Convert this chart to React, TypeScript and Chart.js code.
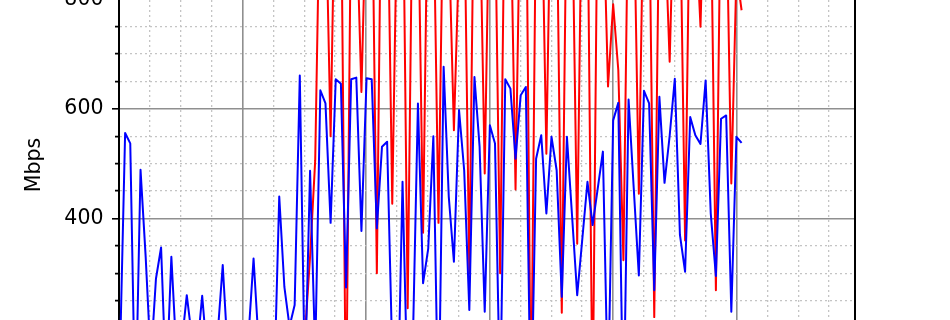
import React, { useEffect, useRef } from "react";
import { Chart, registerables } from "chart.js";

Chart.register(...registerables);

// ---- data ----
const SAMPLE_START_S = 0.2;
const SAMPLE_INTERVAL_S = 1.04;

const BLUE_MBPS: number[] = [
  150, 556, 537, 30, 489, 330, 140, 290, 347, 90,
  330, 150, 170, 260, 183, 158, 259, 146, 150, 187,
  315, 150, 150, 150, 150, 183, 327, 170, 140, 150,
  90, 440, 275, 203, 242, 661, 100, 487, 150, 634,
  610, 392, 654, 646, 274, 654, 657, 377, 656, 654,
  382, 531, 540, 150, 20, 467, 72, 168, 610, 282,
  345, 550, 15, 677, 440, 321, 598, 488, 233, 658,
  531, 230, 570, 537, 60, 654, 637, 509, 625, 640,
  10, 509, 552, 409, 549, 488, 257, 549, 405, 260,
  363, 467, 388, 455, 522, 70, 579, 611, 15, 617,
  456, 296, 633, 610, 269, 622, 465, 551, 655, 370,
  303, 585, 552, 536, 652, 409, 295, 582, 588, 230,
  549, 538,
];

const RED_MBPS: (number | null)[] = [
  null, null, null, null, null, null, null, null, null, null,
  null, null, null, null, null, null, null, null, null, null,
  null, null, null, null, null, null, null, null, null, null,
  null, null, null, null, null, null,
  187, 330, 506, 1050, 1000, 550, 1100, 1050, 20, 1000,
  960, 631, 1010, 1080, 300, 1150, 1050, 427, 1000, 1100,
  236, 1050, 1000, 374, 1080, 1000, 392, 1050, 920, 561,
  880, 1000, 300, 1100, 1000, 482, 1050, 980, 300, 1100,
  1000, 453, 1050, 1100, 30, 1000, 1050, 518, 1100, 1000,
  228, 1050, 1000, 354, 1080, 1000, 40, 1050, 1000, 641,
  791, 671, 324, 1050, 1000, 445, 1050, 1000, 220, 1000,
  950, 686, 1050, 1000, 360, 1050, 950, 750, 1100, 1000,
  269, 1050, 1000, 464, 850, 780,
];

const Y_AXIS_TITLE = "Mbps";
const Y_TICK_LABELS = [400, 600, 800];
const X_RANGE = [0, 149];
const Y_RANGE = [160, 835.2];
const X_MAJOR_STEP = 25;
const X_MINOR_STEP = 6.25;
const Y_MAJOR_STEP = 200;
const Y_MINOR_STEP = 50;

// ---- style ----
const FONT = "'DejaVu Sans', 'Liberation Sans', sans-serif";
const MAJOR_GRID = "#8f8f8f";
const MINOR_GRID = "#c4c4c4";

const isMultiple = (v: number, step: number) =>
  Math.abs(v / step - Math.round(v / step)) < 1e-6;

export default function App() {
  const ref = useRef<HTMLCanvasElement>(null);

  useEffect(() => {
    const canvas = ref.current;
    if (!canvas) return;
    const times = BLUE_MBPS.map((_, i) => SAMPLE_START_S + i * SAMPLE_INTERVAL_S);
    const blue = BLUE_MBPS.map((v, i) => ({ x: times[i], y: v }));
    const red = RED_MBPS.map((v, i) => ({ x: times[i], y: v }));

    const gridColor = (step: number) => (ctx: any) =>
      ctx.tick && isMultiple(ctx.tick.value, step) ? MAJOR_GRID : MINOR_GRID;
    const gridWidth = (step: number) => (ctx: any) =>
      ctx.tick && isMultiple(ctx.tick.value, step) ? 1.6 : 1.3;
    const gridDash = (step: number) => (ctx: any) =>
      ctx.type === "tick" && ctx.tick && !isMultiple(ctx.tick.value, step) ? [2, 3] : [];

    const chart = new Chart(canvas, {
      type: "line",
      data: {
        datasets: [
          {
            data: blue as any,
            borderColor: "#0000ff",
            borderWidth: 2,
            pointRadius: 0,
            tension: 0,
            borderJoinStyle: "round",
            fill: false,
          },
          {
            data: red as any,
            borderColor: "#ff0000",
            borderWidth: 2,
            pointRadius: 0,
            tension: 0,
            borderJoinStyle: "round",
            fill: false,
            spanGaps: false,
          },
        ],
      },
      options: {
        animation: false,
        responsive: false,
        devicePixelRatio: 1,
        events: [],
        layout: { padding: { top: 40, right: 95, bottom: 10, left: 0 } },
        plugins: { legend: { display: false }, tooltip: { enabled: false } },
        scales: {
          x: {
            type: "linear",
            min: X_RANGE[0],
            max: X_RANGE[1],
            afterFit: (s: any) => {
              s.height = 40;
            },
            ticks: {
              display: false,
              stepSize: X_MINOR_STEP,
              includeBounds: false,
              autoSkip: false,
              maxTicksLimit: 1000,
            },
            grid: {
              color: gridColor(X_MAJOR_STEP),
              lineWidth: gridWidth(X_MAJOR_STEP),
              drawTicks: false,
            },
            border: { display: true, color: "#000", width: 2, dash: gridDash(X_MAJOR_STEP) },
          },
          y: {
            type: "linear",
            position: "left",
            min: Y_RANGE[0],
            max: Y_RANGE[1],
            afterFit: (s: any) => {
              s.width = 119;
            },
            ticks: {
              stepSize: Y_MINOR_STEP,
              includeBounds: false,
              autoSkip: false,
              maxTicksLimit: 1000,
              padding: 8.5,
              color: "#000",
              font: { family: FONT, size: 20.5 },
              callback: (v: any) => (Y_TICK_LABELS.includes(Number(v)) ? String(v) : ""),
            },
            grid: {
              color: gridColor(Y_MAJOR_STEP),
              lineWidth: gridWidth(Y_MAJOR_STEP),
              drawTicks: true,
              tickLength: 7,
              tickColor: "#000",
              tickWidth: 1.6,
              tickBorderDash: (ctx: any) =>
                ctx.tick && !isMultiple(ctx.tick.value, Y_MAJOR_STEP) ? [0, 3, 4, 100] : [],
            },
            border: { display: true, color: "#000", width: 2, dash: gridDash(Y_MAJOR_STEP) },
            title: {
              display: true,
              text: Y_AXIS_TITLE,
              color: "#000",
              font: { family: FONT, size: 20.5 },
              padding: { top: 22.7, bottom: 0 },
            },
          },
          y2: {
            type: "linear",
            position: "right",
            afterFit: (s: any) => {
              s.width = 0;
            },
            ticks: { display: false },
            grid: { drawOnChartArea: false, drawTicks: false },
            border: { display: true, color: "#000", width: 2 },
          },
        },
      } as any,
    });
    return () => chart.destroy();
  }, []);

  return (
    <div
      style={{
        position: "fixed",
        left: 0,
        top: 0,
        width: 950,
        height: 320,
        overflow: "hidden",
        background: "#fff",
      }}
    >
      <canvas
        ref={ref}
        width={950}
        height={460}
        style={{ position: "absolute", left: 0, top: -60, width: 950, height: 460 }}
      />
    </div>
  );
}
